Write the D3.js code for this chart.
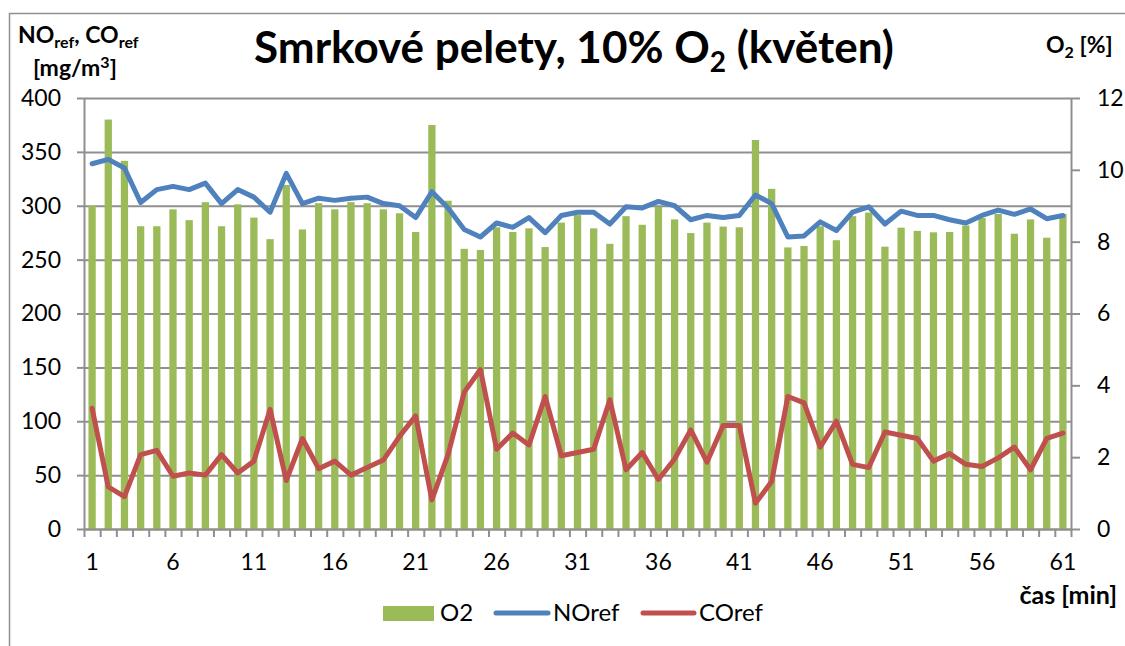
<!DOCTYPE html>
<html lang="cs">
<head>
<meta charset="UTF-8" />
<script src="https://d3js.org/d3.v7.min.js"></script>
<style>
  body { margin: 0; background: #fff; }
  text { font-family: Lato, "Open Sans", sans-serif; fill: #000; }
</style>
</head>
<body>
<div id="chart"></div>
<script>
// data (minutes 1..61)
var minutes = d3.range(1, 62);
var o2 = [9.0, 11.4, 10.25, 8.43, 8.43, 8.9, 8.6, 9.1, 8.43, 9.04,
  8.67, 8.07, 9.58, 8.34, 9.07, 8.9, 9.1, 9.07, 8.9, 8.79,
  8.27, 11.25, 9.14, 7.8, 7.77, 8.4, 8.27, 8.37, 7.85, 8.53,
  8.74, 8.37, 7.94, 8.71, 8.47, 8.97, 8.62, 8.24, 8.53, 8.42,
  8.4, 10.83, 9.47, 7.84, 7.88, 8.43, 8.04, 8.71, 8.81, 7.86,
  8.39, 8.3, 8.26, 8.27, 8.45, 8.66, 8.77, 8.22, 8.62, 8.11, 8.77];
var noRef = [339, 343, 335, 303, 315, 318, 315, 321, 302, 315,
  308, 294, 330, 302, 307, 305, 307, 308, 302, 300,
  289, 313, 298, 278, 271, 284, 280, 289, 275, 291,
  294, 294, 283, 299, 298, 304, 300, 287, 291, 289,
  291, 310, 302, 271, 272, 285, 277, 294, 299, 283,
  295, 291, 291, 287, 284, 291, 296, 292, 297, 288, 291];
var coRef = [112, 39, 30, 69, 73, 49, 52, 50, 69, 52,
  63, 111, 45, 84, 56, 63, 50, 57, 64, 86,
  105, 27, 69, 127, 148, 74, 89, 78, 123, 68,
  71, 74, 120, 55, 71, 46, 65, 92, 62, 96,
  96, 24, 44, 123, 117, 76, 100, 60, 57, 90,
  87, 84, 63, 70, 60, 58, 66, 76, 55, 84, 89];
var xLabels = [1, 6, 11, 16, 21, 26, 31, 36, 41, 46, 51, 56, 61];
var leftTicks = [0, 50, 100, 150, 200, 250, 300, 350, 400];
var rightTicks = [0, 2, 4, 6, 8, 10, 12];

var W = 1125, H = 646;
var plotL = 84, plotR = 1071, plotT = 98, plotB = 529;
var grey = "#8f8f8f";

var svg = d3.select("#chart").append("svg")
  .attr("width", W).attr("height", H);

// outer frame of the chart
svg.append("path")
  .attr("d", "M9.5," + H + "V13.5H" + W)
  .attr("fill", "none").attr("stroke", grey).attr("stroke-width", 1.5);

var x = d3.scaleBand().domain(minutes).range([plotL, plotR])
  .paddingInner(0.55).paddingOuter(0.275);
var xb = d3.scaleLinear().domain([0, 61]).range([plotL, plotR]);
var y = d3.scaleLinear().domain([0, 400]).range([plotB, plotT]);
var y2 = d3.scaleLinear().domain([0, 12]).range([plotB, plotT]);

// gridlines
svg.append("g")
  .attr("transform", "translate(" + plotL + ",0)")
  .call(d3.axisLeft(y).tickValues(leftTicks).tickSize(-(plotR - plotL)).tickFormat(""))
  .call(function (g) {
    g.select(".domain").remove();
    g.selectAll("line").attr("stroke", grey).attr("stroke-width", 2);
  });

// bars
svg.append("g").selectAll("rect")
  .data(minutes)
  .join("rect")
  .attr("x", function (d) { return x(d); })
  .attr("width", x.bandwidth())
  .attr("y", function (d, i) { return y2(o2[i]); })
  .attr("height", function (d, i) { return plotB - y2(o2[i]); })
  .attr("fill", "#9bbb59");

// lines
var line = function (vals) {
  return d3.line()
    .x(function (d) { return x(d) + x.bandwidth() / 2; })
    .y(function (d, i) { return y(vals[i]); })(minutes);
};
svg.append("path").attr("d", line(coRef))
  .attr("fill", "none").attr("stroke", "#c0504d").attr("stroke-width", 5)
  .attr("stroke-linejoin", "round").attr("stroke-linecap", "round");
svg.append("path").attr("d", line(noRef))
  .attr("fill", "none").attr("stroke", "#4f81bd").attr("stroke-width", 5)
  .attr("stroke-linejoin", "round").attr("stroke-linecap", "round");

function styleAxis(g) {
  g.select(".domain").attr("stroke", grey).attr("stroke-width", 2);
  g.selectAll(".tick line").attr("stroke", grey).attr("stroke-width", 2);
  g.selectAll("text").attr("font-size", 23).attr("fill", "#000")
    .style("font-family", "Lato, sans-serif");
}

// left axis
svg.append("g")
  .attr("transform", "translate(" + plotL + ",0)")
  .call(d3.axisLeft(y).tickValues(leftTicks).tickSize(7).tickPadding(16).tickSizeOuter(0))
  .call(styleAxis);

// right axis
svg.append("g")
  .attr("transform", "translate(" + plotR + ",0)")
  .call(d3.axisRight(y2).tickValues(rightTicks).tickSize(9).tickPadding(17).tickSizeOuter(0))
  .call(styleAxis);

// bottom axis: ticks between categories
svg.append("g")
  .attr("transform", "translate(0," + plotB + ")")
  .call(d3.axisBottom(xb).tickValues(d3.range(0, 62)).tickSize(8).tickFormat("").tickSizeOuter(0))
  .call(styleAxis);

// bottom axis labels
svg.append("g")
  .attr("transform", "translate(0," + plotB + ")")
  .call(d3.axisBottom(x).tickValues(xLabels).tickSize(0).tickPadding(25))
  .call(styleAxis)
  .call(function (g) { g.select(".domain").remove(); });

// title
var title = svg.append("text")
  .attr("x", 574).attr("y", 63)
  .attr("text-anchor", "middle")
  .attr("font-size", 44).attr("font-weight", "bold");
title.append("tspan").text("Smrkové pelety, 10% O");
title.append("tspan").attr("font-size", 28).attr("dy", 9).text("2");
title.append("tspan").attr("dy", -9).text(" (květen)");

// left axis title
var lt = svg.append("text").attr("x", 18).attr("y", 43)
  .attr("font-size", 23).attr("font-weight", "bold");
lt.append("tspan").text("NO");
lt.append("tspan").attr("font-size", 16).attr("dy", 5).text("ref");
lt.append("tspan").attr("dy", -5).text(", CO");
lt.append("tspan").attr("font-size", 16).attr("dy", 5).text("ref");
var lt2 = svg.append("text").attr("x", 33).attr("y", 76)
  .attr("font-size", 23).attr("font-weight", "bold");
lt2.append("tspan").text("[mg/m");
lt2.append("tspan").attr("font-size", 16).attr("dy", -8).text("3");
lt2.append("tspan").attr("dy", 8).text("]");

// right axis title
var rt = svg.append("text").attr("x", 1046).attr("y", 53)
  .attr("font-size", 23).attr("font-weight", "bold");
rt.append("tspan").text("O");
rt.append("tspan").attr("font-size", 16).attr("dy", 5).text("2");
rt.append("tspan").attr("dy", -5).text(" [%]");

// x axis title
svg.append("text").attr("x", 1117).attr("y", 604)
  .attr("text-anchor", "end")
  .attr("font-size", 25).attr("font-weight", "bold")
  .text("čas [min]");

// legend
var legend = svg.append("g").attr("transform", "translate(0,613)");
legend.append("rect").attr("x", 383).attr("y", -7).attr("width", 51).attr("height", 15)
  .attr("fill", "#9bbb59");
legend.append("text").attr("x", 440).attr("y", 8).attr("font-size", 24).text("O2");
legend.append("line").attr("x1", 496).attr("x2", 548).attr("y1", 0).attr("y2", 0)
  .attr("stroke", "#4f81bd").attr("stroke-width", 5).attr("stroke-linecap", "round");
legend.append("text").attr("x", 553).attr("y", 8).attr("font-size", 24).text("NOref");
legend.append("line").attr("x1", 643).attr("x2", 694).attr("y1", 0).attr("y2", 0)
  .attr("stroke", "#c0504d").attr("stroke-width", 5).attr("stroke-linecap", "round");
legend.append("text").attr("x", 699).attr("y", 8).attr("font-size", 24).text("COref");
</script>
</body>
</html>
